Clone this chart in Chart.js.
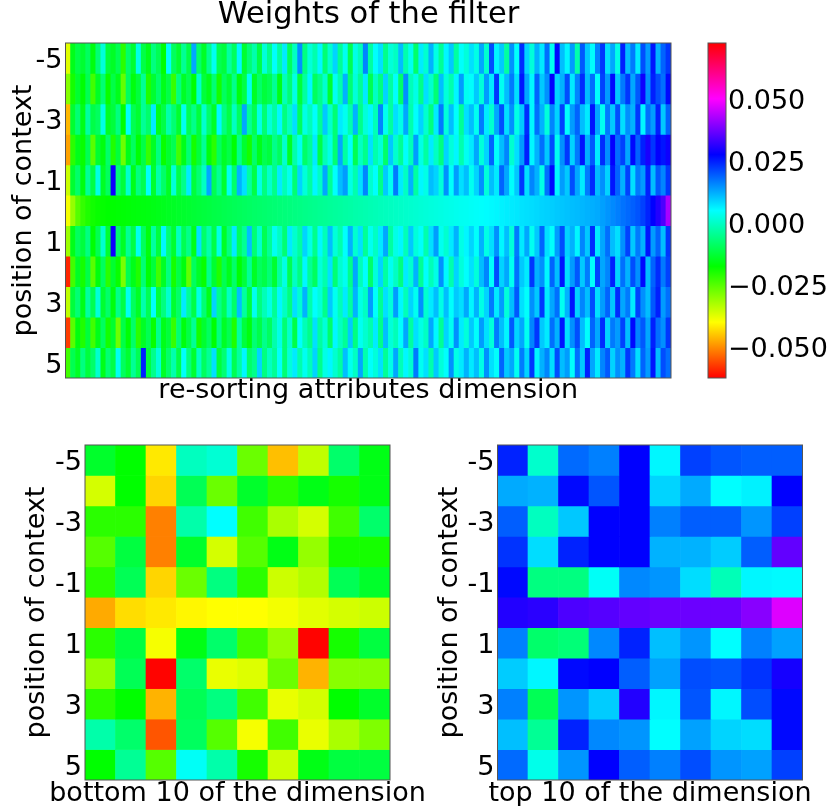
<!DOCTYPE html>
<html>
<head>
<meta charset="utf-8">
<title>Weights of the filter</title>
<script src="https://cdn.jsdelivr.net/npm/chart.js@4.4.1/dist/chart.umd.min.js"></script>
<style>
  html, body { margin: 0; padding: 0; background: #fff; }
  body { width: 830px; height: 806px; position: relative; overflow: hidden; }
  canvas { position: absolute; }
</style>
</head>
<body>
<canvas id="topMap" width="737" height="412" style="left:0;top:0"></canvas>
<canvas id="colorBar" width="140" height="412" style="left:690px;top:0"></canvas>
<canvas id="bottomMap" width="475" height="388" style="left:0;top:419px"></canvas>
<canvas id="topTenMap" width="440" height="388" style="left:430px;top:419px"></canvas>
<script>
// filter weights, in units of 1e-3
const rowPositions = [-5, -4, -3, -2, -1, 0, 1, 2, 3, 4, 5];
const yTicks = [-5, -3, -1, 1, 3, 5];
const colorBarTicks = [-0.05, -0.025, 0, 0.025, 0.05];
const weightMin = -61.3;
const weightMax = 73.8;

// top map: re-sorted attribute dimension, one array per context position
const rowM5 = [
  -36, -14, -10, -12, -8, -15, -6, 3, -11, -13,
  -9, -20, -7, -12, 4, -10, -14, -5, -9, -16,
  6, -8, -12, -3, -10, 14, -7, -13, -4, 5,
  -9, -11, -2, -8, 7, -12, -6, -1, -10, 3,
  -4, 6, -2, 8, -8, 1, 16, -5, 3, -1,
  7, -6, 2, 10, -3, 5, -9, 4, 0, 17,
  -2, 6, 9, -4, 3, 1, 12, -1, 5, -7,
  8, 2, 13, 4, -3, 7, 11, -2, 6, 3,
  9, 4, 14, 2, 22, 7, 11, -2, 16, 6,
  25, 10, 3, 13, 8, 19, 5, 28, 12, 7,
  15, -1, 21, 11, 6, 17, 24, 9, 14, 4,
  26, 12, 18, 8, 22, 15, 27, 13, 20, 24
];
const rowM4 = [
  -28, -18, -12, -16, -9, -22, -13, -6, -17, -10,
  -14, -25, -8, -15, -11, -3, -19, -12, -7, -14,
  -10, -21, -5, -13, -9, -16, 2, -11, -14, -6,
  -18, -8, -12, -4, -15, -10, 5, -13, -7, -11,
  -9, -3, -14, 0, -6, 4, -11, -2, 7, -8,
  -4, 2, -12, 5, -1, 13, -6, 3, -3, 8,
  -9, 1, -5, 10, -2, 6, -7, 16, 0, 4,
  -4, 9, 2, -6, 12, 3, -1, 7, 15, 5,
  6, 11, 3, 15, 8, 24, 5, 12, 18, 9,
  27, 14, 7, 20, 11, 16, 29, 10, 13, 22,
  8, 17, 25, 12, 19, 6, 23, 15, 28, 11,
  18, 24, 14, 21, 30, 16, 26, 22, 19, 28
];
const rowM3 = [
  -45, -12, -6, -14, -2, -10, -8, 4, -13, -11,
  -5, -16, 6, -9, -12, -3, -7, 8, -14, -10,
  -1, -6, -12, 5, -9, -4, -11, 2, -7, -13,
  7, -5, -10, 1, -8, 14, -3, -9, 4, -6,
  3, -2, 7, -5, 1, 9, -8, 4, 0, 6,
  -3, 11, 2, -6, 8, 5, -1, 13, -4, 3,
  7, 0, 17, 5, -2, 9, 4, 14, -1, 6,
  10, 2, -5, 8, 18, 3, 12, 6, -3, 9,
  12, 5, 18, 8, 2, 14, 22, 9, 16, 4,
  11, 25, 7, 19, 13, 3, 17, 10, 23, 6,
  15, 20, 12, 8, 27, 14, 5, 18, 11, 22,
  9, 16, 13, 24, 7, 19, 15, 26, 11, 20
];
const rowM2 = [
  -47, -20, -14, -17, -9, -24, -12, -15, -7, -19,
  -11, -26, -14, -8, -16, -10, -21, -13, -5, -17,
  -12, -9, -22, -14, -6, -18, -11, -3, -15, -20,
  -8, -13, -10, -16, -4, -12, -18, -7, -14, -9,
  -11, -4, -8, 2, -13, -1, 5, -7, -3, 8,
  -10, 0, 4, -6, 14, -2, 6, -9, 1, -4,
  9, -1, 3, -7, 11, 2, -3, 6, 0, 15,
  4, -2, 8, 1, -5, 10, 3, 7, -1, 5,
  8, 14, 3, 10, 20, 6, 12, 17, 2, 9,
  15, 26, 7, 13, 19, 11, 22, 5, 16, 24,
  10, 18, 27, 13, 21, 8, 25, 16, 29, 19,
  23, 14, 28, 20, 26, 31, 24, 29, 27, 30
];
const rowM1 = [
  -34, -12, -7, -15, -3, -10, 4, -13, -8, 30,
  -6, -11, 2, -14, -5, -9, 6, -12, -1, -7,
  -13, 3, -10, -4, 8, -11, -6, 1, 14, -9,
  -3, -12, 5, -7, 13, 9, -2, -10, 4, -5,
  2, -4, 8, 0, 5, -6, 10, 3, -2, 7,
  1, 14, -3, 6, 12, 15, 4, -1, 9, 17,
  2, 6, -4, 11, 5, 18, 8, 1, 13, -2,
  7, 4, 12, 10, 3, 16, 6, 15, 9, 12,
  5, 10, 16, 3, 12, 8, 20, 14, 6, 11,
  24, 9, 17, 13, 4, 19, 28, 7, 15, 11,
  22, 14, 8, 18, 25, 12, 16, 10, 27, 20,
  13, 23, 9, 18, 15, 26, 12, 21, 17, 24
];
const row0 = [
  -38.0, -29.4, -23.8, -20.8, -18.9, -17.8, -17.0, -16.6, -16.3, -16.2,
  -15.9, -15.8, -15.5, -15.3, -15.1, -14.9, -14.8, -14.4, -14.1, -13.7,
  -13.3, -13.0, -12.6, -12.3, -11.9, -11.6, -11.2, -10.9, -10.5, -10.1,
  -9.8, -9.4, -9.0, -8.7, -8.3, -8.0, -7.6, -7.3, -7.0, -6.7,
  -6.4, -6.1, -5.8, -5.5, -5.2, -4.9, -4.6, -4.3, -4.0, -3.7,
  -3.4, -3.1, -2.8, -2.5, -2.2, -1.9, -1.6, -1.3, -1.0, -0.7,
  -0.4, -0.1, 0.2, 0.5, 0.8, 1.1, 1.4, 1.7, 2.0, 2.3,
  2.6, 2.9, 3.2, 3.5, 3.8, 4.1, 4.4, 4.7, 5.0, 5.2,
  5.5, 5.8, 6.1, 6.4, 6.7, 7.0, 7.4, 7.7, 8.0, 8.3,
  8.7, 9.0, 9.3, 9.6, 10.0, 10.3, 10.6, 11.0, 11.3, 11.6,
  12.0, 12.3, 12.6, 13.0, 13.3, 13.7, 14.6, 15.6, 16.6, 17.6,
  18.6, 19.5, 20.4, 21.4, 23.1, 25.8, 28.8, 31.8, 35.5, 43.8
];
const rowP1 = [
  -30, -14, -8, -11, -5, -16, -9, 2, -12, 30,
  -7, -13, -3, -10, 5, -8, -15, -2, -11, 7,
  -6, -12, 1, -9, -4, -14, 9, -7, -1, -10,
  4, -13, -5, 8, -8, -3, 12, -6, 2, -9,
  -3, 5, 1, -6, 8, 2, -2, 10, 4, -4,
  7, 0, 12, 3, -1, 6, 13, 2, 9, -3,
  5, 1, 8, 14, -2, 4, 7, 0, 11, 3,
  6, -1, 9, 15, 5, 2, 8, 13, 4, 7,
  10, 6, 13, 4, 9, 16, 7, 12, 3, 18,
  8, 14, 5, 11, 20, 9, 6, 15, 22, 10,
  13, 7, 17, 11, 25, 8, 14, 19, 12, 9,
  16, 23, 11, 18, 13, 27, 15, 20, 12, 24
];
const rowP2 = [
  -58, -22, -13, -18, -10, -24, -15, -8, -20, -12,
  -17, -27, -9, -14, -19, -6, -16, -11, -22, -13,
  -5, -18, -10, -15, -25, -8, -13, -17, -4, -12,
  -19, -9, -14, -7, -16, -11, -3, -13, -8, -10,
  -6, -12, -2, 4, -9, 1, -5, 7, -3, -8,
  3, -1, 9, -6, 2, 5, -4, 14, 0, 6,
  -7, 3, 10, -2, 5, 1, -5, 8, 2, 13,
  -3, 6, 0, 4, 16, 7, -1, 10, 3, 6,
  9, 3, 12, 17, 6, 22, 10, 14, 5, 19,
  11, 8, 24, 13, 16, 7, 20, 12, 27, 9,
  15, 21, 11, 18, 6, 23, 14, 17, 26, 10,
  19, 13, 22, 16, 28, 12, 20, 25, 18, 23
];
const rowP3 = [
  -33, -11, -6, -14, -2, -9, 3, -12, -7, -15,
  -4, -10, 5, -8, -13, -1, -9, 6, -11, -5,
  2, -12, -7, 8, -3, -10, 4, -6, -14, 10,
  -4, -9, 1, -7, 12, -2, -11, 5, -5, 0,
  4, -3, 7, 1, -5, 9, 2, 13, -1, 6,
  3, -4, 11, 5, 0, 8, -2, 13, 4, 1,
  15, 6, -3, 9, 3, 15, 7, 0, 10, 5,
  16, 2, 8, 12, 4, 12, 6, 11, 9, 14,
  7, 13, 4, 10, 18, 8, 15, 3, 12, 21,
  9, 6, 16, 11, 24, 8, 14, 19, 5, 13,
  27, 10, 17, 12, 22, 9, 15, 20, 11, 25,
  14, 18, 8, 23, 16, 12, 21, 26, 15, 19
];
const rowP4 = [
  -56, -24, -15, -19, -11, -22, -14, -8, -18, -12,
  -26, -10, -16, -7, -20, -13, -9, -17, -4, -14,
  -11, -21, -6, -15, -10, -3, -18, -12, -8, -16,
  -5, -13, -9, -19, -2, -11, -15, -6, -10, -4,
  -8, -1, 4, -6, 2, -10, 6, 0, -4, 9,
  -2, 3, -7, 7, 1, -3, 11, -5, 5, 2,
  -1, 8, -4, 12, 3, 0, 6, 14, -2, 9,
  4, 1, 14, 7, -3, 10, 5, 16, 8, 3,
  11, 6, 15, 9, 3, 18, 12, 7, 21, 10,
  14, 5, 17, 24, 11, 8, 19, 13, 27, 9,
  16, 22, 12, 6, 20, 14, 25, 10, 18, 15,
  23, 12, 28, 17, 21, 14, 26, 19, 16, 24
];
const rowP5 = [
  -22, -9, -13, -5, -11, -7, 2, -14, -6, -10,
  5, -8, -12, -3, -9, 26, -11, -4, 3, -13,
  -7, -1, -10, 6, -5, -12, 1, -8, -3, 9,
  -11, -6, 4, -9, -2, 7, -7, -4, 10, -5,
  1, -3, 6, -6, 3, 8, -1, 5, 0, 10,
  -4, 4, 7, 2, -2, 12, 5, 1, 14, -1,
  6, 3, 9, -3, 4, 14, 0, 7, 2, 18,
  5, 9, -1, 11, 3, 6, 16, 4, 8, 13,
  8, 12, 4, 16, 9, 6, 20, 11, 14, 5,
  18, 10, 24, 7, 13, 17, 9, 22, 12, 15,
  6, 19, 11, 26, 14, 8, 17, 21, 10, 16,
  13, 24, 18, 9, 20, 15, 27, 12, 22, 19
];
const topWeights = [rowM5, rowM4, rowM3, rowM2, rowM1, row0, rowP1, rowP2, rowP3, rowP4, rowP5];

// bottom 10 / top 10 of the sorted dimension
const bottom10Weights = [
  [-12.5, -16.3, -40.7, 0.6, 2.5, -25.6, -44.4, -33.2, -6.9, -14.4],
  [-35.0, -16.3, -42.5, -8.8, -25.6, -12.5, -20.0, -14.4, -18.1, -14.4],
  [-20.0, -20.0, -50.0, -1.3, 6.3, -21.9, -31.3, -35.0, -21.9, -6.9],
  [-23.8, -10.6, -50.0, -12.5, -35.0, -23.8, -14.4, -29.4, -18.1, -18.1],
  [-20.0, -8.8, -42.5, -25.6, -5.0, -20.0, -34.3, -32.0, -8.8, -12.5],
  [-46.3, -41.8, -40.7, -39.5, -38.8, -38.8, -37.7, -36.2, -35.0, -34.3],
  [-20.0, -10.6, -38.0, -14.4, -6.9, -21.9, -29.4, -61.0, -18.1, -10.6],
  [-29.4, -8.8, -61.0, -6.9, -36.9, -35.8, -25.6, -45.5, -28.3, -28.3],
  [-20.0, -16.3, -45.5, -8.8, -5.0, -21.9, -36.9, -35.0, -16.3, -12.5],
  [-1.3, -6.9, -53.8, -8.0, -23.8, -38.0, -21.9, -36.9, -31.3, -27.5],
  [-16.3, -3.1, -23.8, 5.5, -1.3, -18.1, -34.3, -14.4, -10.6, -10.6]
];
const top10Weights = [
  [25.8, 1.8, 19.4, 17.5, 28.8, 7.0, 23.1, 21.3, 20.5, 20.5],
  [13.8, 13.0, 28.0, 21.3, 28.8, 10.0, 13.8, 6.3, 7.4, 28.8],
  [20.5, 0.6, 11.1, 28.8, 28.8, 17.5, 20.5, 20.5, 15.6, 23.1],
  [24.3, 9.3, 25.8, 28.8, 28.8, 13.0, 13.0, 10.8, 20.5, 37.4],
  [28.0, -5.0, -5.0, 5.5, 16.8, 15.6, 9.3, -0.1, 7.0, 6.6],
  [31.8, 32.5, 35.5, 36.3, 37.4, 38.2, 38.2, 38.2, 40.8, 48.3],
  [17.5, -6.9, -5.8, 16.8, 25.8, 11.9, 15.6, 6.3, 17.5, 14.5],
  [10.8, 7.0, 28.0, 28.8, 20.5, 14.5, 22.0, 21.3, 24.3, 30.6],
  [17.5, -8.8, 15.6, 10.8, 31.8, 7.0, 21.3, 7.0, 22.0, 28.0],
  [11.9, -3.1, 25.8, 16.8, 15.6, 6.3, 14.5, 10.0, 9.3, 28.0],
  [19.4, 4.4, 15.6, 28.8, 20.5, 17.5, 22.0, 15.6, 14.5, 23.1]
];

Chart.defaults.font.family = "'DejaVu Sans', sans-serif";
Chart.defaults.color = '#000';

// matplotlib "hsv" colormap
function hsvColor(w) {
  let t = (w - weightMin) / (weightMax - weightMin);
  t = Math.min(1, Math.max(0, t));
  return 'hsl(' + (t * 360).toFixed(1) + ',100%,50%)';
}

const framePlugin = {
  id: 'frame',
  afterDatasetsDraw(chart) {
    const { ctx, chartArea: a } = chart;
    ctx.save();
    ctx.strokeStyle = '#555';
    ctx.lineWidth = 1;
    ctx.strokeRect(a.left, a.top, a.right - a.left, a.bottom - a.top);
    ctx.restore();
  }
};

function heatDatasets(matrix) {
  return matrix.map((row, r) => ({
    data: row.map(() => [rowPositions[r] - 0.5, rowPositions[r] + 0.5]),
    backgroundColor: row.map(hsvColor),
    borderWidth: 0,
    barPercentage: 1,
    categoryPercentage: 1,
    grouped: false
  }));
}

function yAxis(width, titlePad, titleLine) {
  return {
    type: 'linear',
    position: 'left',
    min: -5.5,
    max: 5.5,
    reverse: true,
    grid: { display: false, drawTicks: false },
    border: { display: false },
    afterBuildTicks: s => { s.ticks = yTicks.map(v => ({ value: v })); },
    ticks: { font: { size: 27 }, padding: 3, labelOffset: 3, callback: v => String(v) },
    title: { display: true, text: 'position of context', font: { size: 27, lineHeight: titleLine }, padding: { top: titlePad, bottom: 0 } },
    afterFit: s => { s.width = width; }
  };
}

function spacerAxis(width) {
  return {
    type: 'linear',
    position: 'right',
    display: true,
    grid: { display: false, drawTicks: false },
    border: { display: false },
    ticks: { display: false },
    afterFit: s => { s.width = width; }
  };
}

// top map
new Chart(document.getElementById('topMap'), {
  type: 'bar',
  data: { labels: row0.map((_, i) => i), datasets: heatDatasets(topWeights) },
  options: {
    responsive: false,
    animation: false,
    plugins: {
      legend: { display: false },
      tooltip: { enabled: false },
      title: { display: true, text: 'Weights of the filter', font: { size: 30.5, weight: 'normal', lineHeight: 1 }, padding: { top: 0, bottom: 12.5 } }
    },
    scales: {
      x: {
        type: 'category',
        grid: { display: false, drawTicks: false },
        border: { display: false },
        ticks: { display: false },
        title: { display: true, text: 're-sorting attributes dimension', font: { size: 27 }, padding: { top: 0, bottom: 5 } },
        afterFit: s => { s.height = 34; }
      },
      y: yAxis(65.5, 7.5, 1.2),
      y2: spacerAxis(66)
    }
  },
  plugins: [framePlugin]
});

// colour bar
new Chart(document.getElementById('colorBar'), {
  type: 'bar',
  data: {
    labels: ['weight'],
    datasets: [{
      data: [[weightMin / 1000, weightMax / 1000]],
      backgroundColor: ctx => {
        const a = ctx.chart.chartArea;
        if (!a) return '#0f0';
        const g = ctx.chart.ctx.createLinearGradient(0, a.bottom, 0, a.top);
        for (let i = 0; i <= 12; i++) g.addColorStop(i / 12, 'hsl(' + i * 30 + ',100%,50%)');
        return g;
      },
      borderWidth: 0,
      barPercentage: 1,
      categoryPercentage: 1
    }]
  },
  options: {
    responsive: false,
    animation: false,
    layout: { padding: { left: 18, top: 43, bottom: 34 } },
    plugins: { legend: { display: false }, tooltip: { enabled: false } },
    scales: {
      x: { display: false },
      y: {
        position: 'right',
        min: weightMin / 1000,
        max: weightMax / 1000,
        grid: { display: false, drawTicks: false },
        border: { display: false },
        afterBuildTicks: s => { s.ticks = colorBarTicks.map(v => ({ value: v })); },
        ticks: { font: { size: 27 }, padding: 2, callback: v => (v < 0 ? '\u2212' : '') + Math.abs(v).toFixed(3) },
        afterFit: s => { s.width = 104; }
      }
    }
  },
  plugins: [framePlugin]
});

function smallMap(id, matrix, caption, yWidth, titlePad) {
  new Chart(document.getElementById(id), {
    type: 'bar',
    data: { labels: matrix[0].map((_, i) => i), datasets: heatDatasets(matrix) },
    options: {
      responsive: false,
      animation: false,
      layout: { padding: { top: 26 } },
      plugins: {
        legend: { display: false },
        tooltip: { enabled: false },
        title: { display: true, position: 'bottom', text: caption, font: { size: 27, weight: 'normal', lineHeight: 1 }, padding: 0 }
      },
      scales: {
        x: { type: 'category', display: false },
        y: yAxis(yWidth, titlePad, 1.2),
        y2: spacerAxis(yWidth)
      }
    },
    plugins: [framePlugin]
  });
}

smallMap('bottomMap', bottom10Weights, 'bottom 10 of the dimension', 85, 20.5);
smallMap('topTenMap', top10Weights, 'top 10 of the dimension', 67.5, 3.8);
</script>
</body>
</html>
